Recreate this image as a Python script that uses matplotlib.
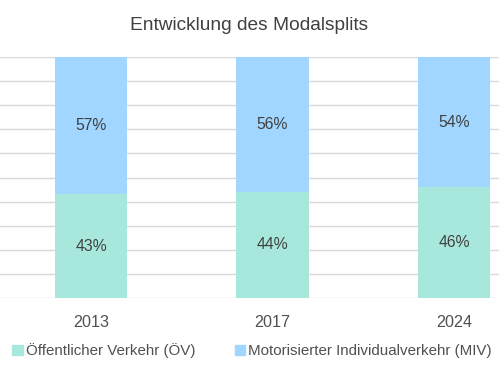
import matplotlib
matplotlib.use("Agg")
import matplotlib.pyplot as plt
from matplotlib.patches import Rectangle

plt.rcParams['font.family'] = ['Liberation Sans', 'DejaVu Sans']

years = ["2013", "2017", "2024"]
oev = [43, 44, 46]
miv = [57, 56, 54]
series_names = ["Öffentlicher Verkehr (ÖV)", "Motorisierter Individualverkehr (MIV)"]
title = "Entwicklung des Modalsplits"

c_oev = "#a8e8dc"
c_miv = "#a0d6ff"
txt = "#404040"

fig = plt.figure(figsize=(4.99, 3.76), dpi=100)
ax = fig.add_axes([0, 78/376, 1, 241/376])
x = list(range(len(years)))
w = 0.40
ax.bar(x, oev, width=w, color=c_oev, zorder=3)
ax.bar(x, miv, width=w, bottom=oev, color=c_miv, zorder=3)
for i in x:
    ax.text(i, oev[i]/2, f"{oev[i]}%", ha="center", va="center", fontsize=11.3, color=txt, zorder=4)
    ax.text(i, oev[i] + miv[i]/2, f"{miv[i]}%", ha="center", va="center", fontsize=11.3, color=txt, zorder=4)

ax.set_xlim(-91/181.5, (499-91)/181.5)
ax.set_ylim(0, 100)
ax.set_yticks(range(0, 101, 10))
ax.yaxis.grid(True, color="#d9d9d9", linewidth=1, zorder=0)
ax.set_yticklabels([])
ax.tick_params(axis="y", length=0)
ax.set_xticks(x)
ax.set_xticklabels(years, fontsize=11.6, color="#505050")
ax.tick_params(axis="x", length=0, pad=12)
for s in ax.spines.values():
    s.set_visible(False)

fig.text(0.5, 1 - 25/376, title, ha="center", va="center", fontsize=13.8, color=txt)

handles = [Rectangle((0, 0), 1, 1, color=c_oev), Rectangle((0, 0), 1, 1, color=c_miv)]
fig.legend(handles, series_names, loc="center", bbox_to_anchor=(0.505, 1 - 351/376), ncol=2,
           frameon=False, fontsize=10.9, labelcolor="#505050", handlelength=0.7, handleheight=0.7,
           handletextpad=0.2, columnspacing=2.6)

fig.savefig("out.png", dpi=100)
